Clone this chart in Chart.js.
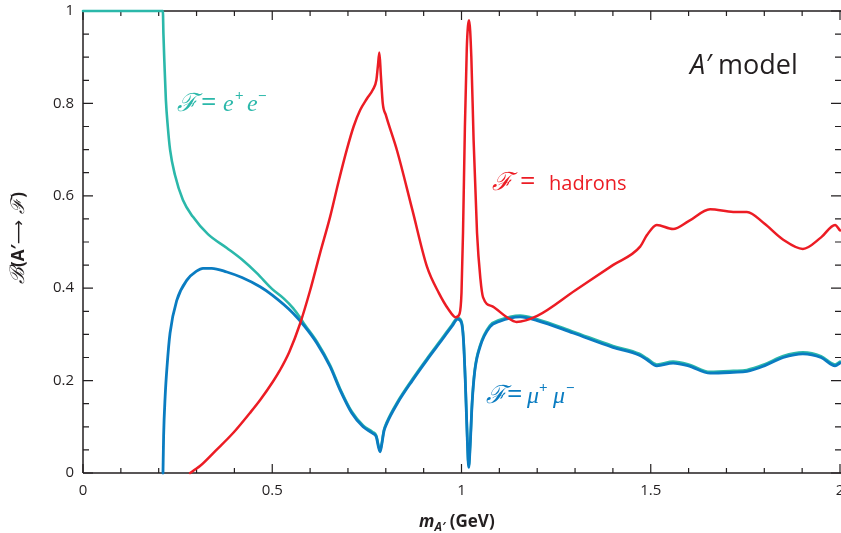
<!DOCTYPE html>
<html>
<head>
<meta charset="utf-8">
<script src="https://cdn.jsdelivr.net/npm/chart.js@4.4.1/dist/chart.umd.min.js"></script>
<style>
html,body{margin:0;padding:0;background:#fff;}
#wrap{width:841px;height:533px;position:relative;}
</style>
</head>
<body>
<div id="wrap"><canvas id="c" width="841" height="533"></canvas></div>
<script>
// ---- data ----
const tealX = [0,0.211,0.2125,0.215,0.219,0.224,0.230,0.243,0.264,0.29,0.33,0.38,0.42,0.46,0.50,0.53,0.555,0.573,0.585,0.618,0.653,0.679,0.71,0.74,0.765,0.775,0.781,0.785,0.789,0.795,0.803,0.83,0.87,0.909,0.95,0.975,0.99,1.0,1.005,1.01,1.015,1.019,1.023,1.028,1.035,1.049,1.075,1.1,1.155,1.2,1.295,1.4,1.47,1.49,1.516,1.559,1.6,1.657,1.718,1.754,1.8,1.85,1.902,1.95,1.987,2.0];
const tealY = [1,1,0.95,0.89,0.807,0.75,0.70,0.645,0.591,0.555,0.517,0.487,0.462,0.432,0.398,0.378,0.357,0.337,0.322,0.284,0.233,0.183,0.133,0.103,0.089,0.081,0.058,0.049,0.063,0.093,0.111,0.153,0.203,0.248,0.293,0.321,0.336,0.328,0.293,0.203,0.083,0.015,0.063,0.153,0.223,0.276,0.319,0.331,0.341,0.333,0.306,0.275,0.258,0.248,0.235,0.241,0.235,0.219,0.221,0.223,0.235,0.253,0.261,0.253,0.235,0.241];

const blueX = [0.2113,0.213,0.217,0.222,0.23,0.248,0.275,0.30,0.317,0.34,0.38,0.42,0.468,0.50,0.555,0.585,0.618,0.653,0.679,0.71,0.74,0.765,0.775,0.781,0.785,0.789,0.795,0.803,0.83,0.87,0.909,0.95,0.975,0.99,1.0,1.005,1.01,1.015,1.019,1.023,1.028,1.035,1.049,1.075,1.1,1.155,1.2,1.295,1.4,1.47,1.49,1.516,1.559,1.6,1.657,1.718,1.754,1.8,1.85,1.902,1.95,1.987,2.0];
const blueY = [0,0.08,0.165,0.23,0.303,0.374,0.418,0.437,0.443,0.443,0.435,0.423,0.403,0.385,0.346,0.318,0.281,0.23,0.18,0.13,0.10,0.086,0.078,0.055,0.046,0.06,0.09,0.108,0.15,0.20,0.245,0.29,0.318,0.333,0.325,0.29,0.20,0.08,0.012,0.06,0.15,0.22,0.273,0.316,0.328,0.338,0.33,0.303,0.272,0.255,0.245,0.232,0.238,0.232,0.216,0.218,0.22,0.232,0.25,0.258,0.25,0.232,0.238];

const redX = [0.283,0.295,0.309,0.35,0.396,0.441,0.468,0.502,0.52,0.545,0.573,0.6,0.626,0.653,0.675,0.697,0.715,0.732,0.75,0.766,0.775,0.779,0.783,0.787,0.792,0.80,0.83,0.87,0.909,0.94,0.965,0.985,0.995,1.0,1.004,1.009,1.014,1.02,1.026,1.032,1.041,1.05,1.057,1.083,1.12,1.145,1.2,1.3,1.4,1.472,1.49,1.516,1.559,1.6,1.657,1.718,1.754,1.8,1.85,1.902,1.95,1.987,2.0];
const redY = [0,0.007,0.015,0.048,0.086,0.13,0.158,0.198,0.222,0.262,0.322,0.395,0.475,0.555,0.63,0.70,0.75,0.785,0.81,0.83,0.85,0.88,0.91,0.86,0.80,0.775,0.697,0.57,0.446,0.39,0.355,0.337,0.345,0.39,0.52,0.75,0.92,0.98,0.90,0.72,0.52,0.42,0.38,0.36,0.337,0.327,0.34,0.395,0.45,0.49,0.515,0.537,0.528,0.545,0.571,0.565,0.565,0.54,0.505,0.485,0.51,0.537,0.525];

const xTickLabels = ['0','0.5','1','1.5','2'];   // at multiples of 0.5
const yTickLabels = ['0','0.2','0.4','0.6','0.8','1']; // at multiples of 0.2

const TEAL = '#2bb8aa', BLUE = '#0a7cc1', RED = '#ec1c24', INK = '#231f20';

function pts(xs, ys){ return xs.map((x,i)=>({x:x, y:ys[i]})); }

function isMult(v, step){ const r = v/step; return Math.abs(r-Math.round(r)) < 1e-6; }

function drawRich(ctx, x, y, segs, color){
  ctx.save();
  ctx.fillStyle = color;
  ctx.textBaseline = 'alphabetic';
  ctx.textAlign = 'left';
  let cx = x;
  for (const s of segs){
    ctx.font = s.f;
    ctx.fillText(s.t, cx + (s.dx||0), y + (s.dy||0));
    cx += ctx.measureText(s.t).width + (s.dx||0);
  }
  ctx.restore();
}
function drawAbs(ctx, items, color){
  ctx.save();
  ctx.fillStyle = color;
  ctx.textBaseline = 'alphabetic';
  ctx.textAlign = 'left';
  items.forEach(s=>{ ctx.font = s.f; ctx.fillText(s.t, s.x, s.y); });
  ctx.restore();
}

const SCRF = 'italic 25px "DejaVu Serif"';
const EQ = '27px "Open Sans"';
const ITL = 'italic 24px "Liberation Serif"';
const SUP = '15px "Open Sans"';

const axesPlugin = {
  id: 'axesPlugin',
  beforeDatasetsDraw(chart){
    const {ctx, chartArea:a, scales:{x, y}} = chart;
    ctx.save();
    ctx.strokeStyle = INK;
    ctx.lineWidth = 1.5;
    ctx.beginPath();
    ctx.moveTo(a.left, a.top); ctx.lineTo(a.left, a.bottom);
    ctx.moveTo(a.left, a.bottom); ctx.lineTo(a.right+1, a.bottom);
    ctx.moveTo(a.left, a.top); ctx.lineTo(a.right+1, a.top);
    ctx.stroke();
    ctx.lineWidth = 1.2;
    ctx.beginPath();
    x.ticks.forEach(t=>{
      const px = x.getPixelForValue(t.value);
      const L = isMult(t.value,0.5) ? 9 : 5;
      ctx.moveTo(px, a.bottom); ctx.lineTo(px, a.bottom - L);
      ctx.moveTo(px, a.top); ctx.lineTo(px, a.top + L);
    });
    y.ticks.forEach(t=>{
      const py = y.getPixelForValue(t.value);
      const L = isMult(t.value,0.2) ? 10 : 6;
      ctx.moveTo(a.left, py); ctx.lineTo(a.left + L, py);
      ctx.moveTo(a.right+1, py); ctx.lineTo(a.right+1 - L, py);
    });
    ctx.stroke();
    ctx.restore();
  },
  afterDraw(chart){
    const ctx = chart.ctx;
    // e+e- label
    drawAbs(ctx, [
      {t:'ℱ', f:SCRF, x:177, y:111},
      {t:'=', f:EQ, x:201, y:111},
      {t:'e', f:ITL, x:223, y:111},
      {t:'+', f:SUP, x:235, y:101},
      {t:'e', f:ITL, x:247, y:111},
      {t:'−', f:SUP, x:258, y:101}
    ], TEAL);
    // hadrons label
    drawAbs(ctx, [
      {t:'ℱ', f:SCRF, x:492, y:190},
      {t:'=', f:EQ, x:520, y:190},
      {t:'hadrons', f:'20px "Open Sans"', x:549, y:190}
    ], RED);
    // mu+mu- label
    drawAbs(ctx, [
      {t:'ℱ', f:SCRF, x:486, y:403},
      {t:'=', f:EQ, x:507, y:403},
      {t:'μ', f:ITL, x:527, y:403},
      {t:'+', f:SUP, x:539, y:393},
      {t:'μ', f:ITL, x:553, y:403},
      {t:'−', f:SUP, x:566, y:393}
    ], BLUE);
    // A' model
    drawRich(ctx, 690, 74, [
      {t:'A′', f:'italic 27px "Open Sans"'},
      {t:' model', f:'27px "Open Sans"'}
    ], INK);
    // x title
    drawRich(ctx, 419, 527, [
      {t:'m', f:'italic bold 17px "Open Sans"'},
      {t:'A′', f:'italic bold 12px "Open Sans"', dy:4},
      {t:' (GeV)', f:'bold 17px "Open Sans"'}
    ], INK);
    // y title (rotated)
    ctx.save();
    ctx.translate(24, 238);
    ctx.rotate(-Math.PI/2);
    const segs = [
      {t:'ℬ', f:'italic 20px "DejaVu Serif"'},
      {t:'(A′', f:'bold 17px "Open Sans"'},
      {t:'⟶', f:'17px "DejaVu Sans"'},
      {t:' ℱ', f:'italic 19px "DejaVu Serif"'},
      {t:')', f:'bold 17px "Open Sans"'}
    ];
    let w = 0;
    segs.forEach(s=>{ ctx.font = s.f; w += ctx.measureText(s.t).width; });
    drawRich(ctx, -w/2, 0, segs, INK);
    ctx.restore();
  }
};

const tickFont = {family:'"Open Sans"', size:15};

new Chart(document.getElementById('c'), {
  type: 'line',
  data: {
    datasets: [
      {label:'hadrons', data: pts(redX, redY), borderColor: RED, borderWidth: 2.5},
      {label:'mu+mu-', data: pts(blueX, blueY), borderColor: BLUE, borderWidth: 2.8},
      {label:'e+e-', data: pts(tealX, tealY), borderColor: TEAL, borderWidth: 2.6}
    ]
  },
  options: {
    responsive: false,
    animation: false,
    elements: {
      point: {radius: 0},
      line: {cubicInterpolationMode: 'monotone', fill: false, borderCapStyle: 'round', borderJoinStyle: 'round'}
    },
    datasets: { line: { clip: 6 } },
    layout: {padding: {top: 11, right: 1, left: 0, bottom: 0}},
    plugins: {legend: {display: false}, tooltip: {enabled: false}},
    scales: {
      x: {
        type: 'linear', min: 0, max: 2,
        grid: {display: false, drawTicks: false}, border: {display: false},
        ticks: {
          stepSize: 0.1, autoSkip: false, maxRotation: 0, padding: 9,
          color: INK, font: tickFont,
          callback: (v)=> isMult(v,0.5) ? xTickLabels[Math.round(v/0.5)] : ''
        },
        afterFit: (s)=>{ s.height = 60; s.paddingLeft = 0; s.paddingRight = 0; }
      },
      y: {
        type: 'linear', min: 0, max: 1,
        grid: {display: false, drawTicks: false}, border: {display: false},
        ticks: {
          stepSize: 0.05, autoSkip: false, padding: 9,
          color: INK, font: tickFont,
          callback: (v)=> isMult(v,0.2) ? yTickLabels[Math.round(v/0.2)] : ''
        },
        afterFit: (s)=>{ s.width = 83; s.paddingTop = 0; s.paddingBottom = 0; }
      }
    }
  },
  plugins: [axesPlugin]
});
</script>
</body>
</html>
